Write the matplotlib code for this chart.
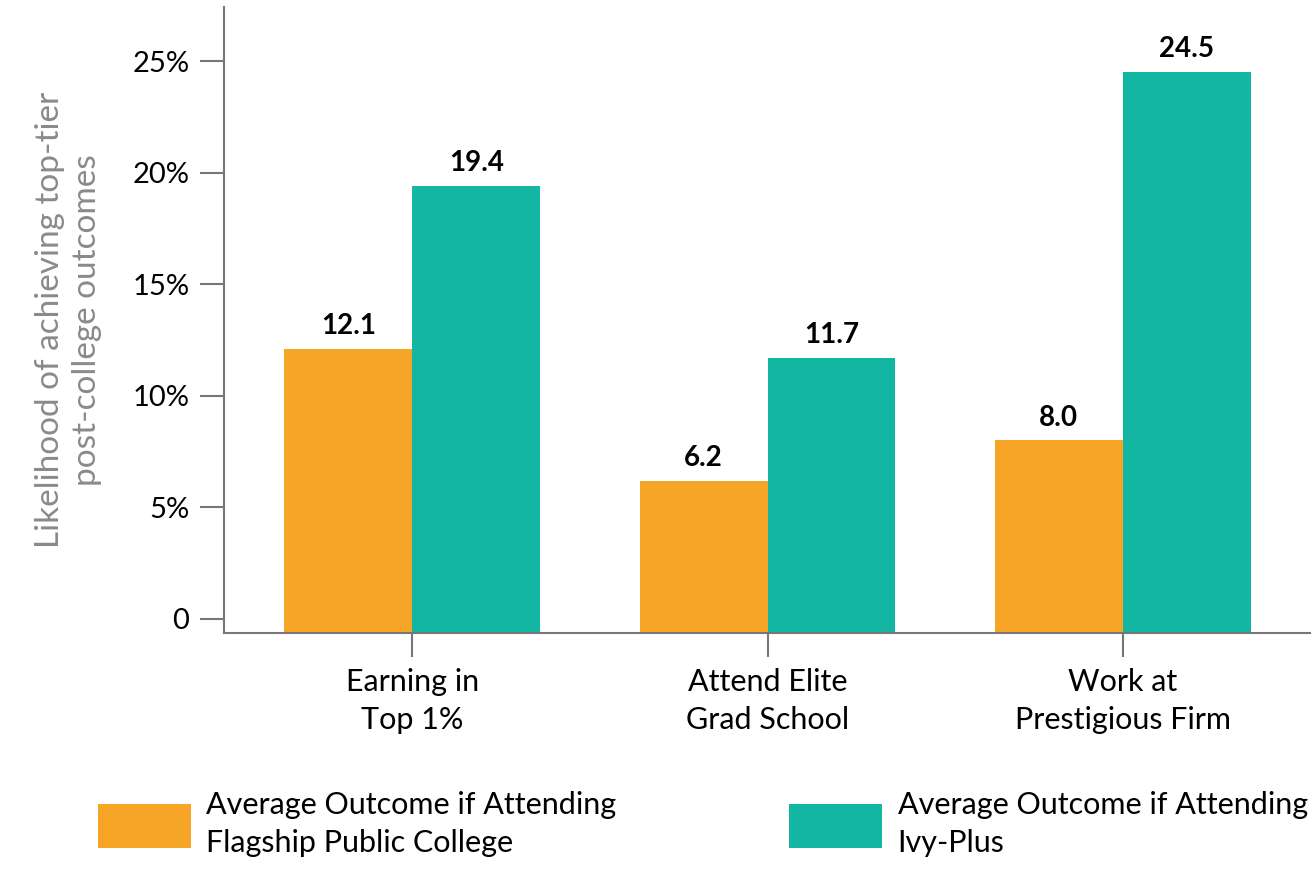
import matplotlib.pyplot as plt
import numpy as np

categories = ['Earning in\nTop 1%', 'Attend Elite\nGrad School', 'Work at\nPrestigious Firm']
flagship = [12.1, 6.2, 8.0]
ivy_plus = [19.4, 11.7, 24.5]
series_names = ['Average Outcome if Attending\nFlagship Public College',
                'Average Outcome if Attending\nIvy-Plus']
yticks = [0, 5, 10, 15, 20, 25]
ytick_labels = ['0', '5%', '10%', '15%', '20%', '25%']

ORANGE = '#F7A526'
TEAL = '#13B5A3'
GREY = '#777777'

plt.rcParams['font.family'] = ['Lato', 'DejaVu Sans']

fig = plt.figure(figsize=(13.11, 8.69), dpi=100)
ax = fig.add_axes([224 / 1311, 1 - 633 / 869, 1 - 224 / 1311, (633 - 7) / 869])

ymin, ymax = -0.63, 27.42
x = np.arange(len(categories))
w = 0.36
b1 = ax.bar(x - w / 2, np.array(flagship) - ymin, w, bottom=ymin, color=ORANGE, label=series_names[0])
b2 = ax.bar(x + w / 2, np.array(ivy_plus) - ymin, w, bottom=ymin, color=TEAL, label=series_names[1])

# value labels above each bar
for bars, vals in ((b1, flagship), (b2, ivy_plus)):
    for r, v in zip(bars, vals):
        ax.annotate(f'{v:.1f}', (r.get_x() + r.get_width() / 2, v), xytext=(0, 7),
                    textcoords='offset points', ha='center', va='bottom',
                    fontsize=20, fontweight='bold')

ax.set_ylim(ymin, ymax)
ax.set_xlim(-0.53, 2.53)
ax.set_yticks(yticks)
ax.set_yticklabels(ytick_labels, fontsize=21)
ax.set_xticks(x)
ax.set_xticklabels(categories, fontsize=22, linespacing=1.45)
ax.tick_params(axis='both', colors=GREY, labelcolor='black',
               length=17, width=1.5)
ax.tick_params(axis='x', pad=8)
ax.tick_params(axis='y', pad=8)

for s in ['top', 'right']:
    ax.spines[s].set_visible(False)
for s in ['left', 'bottom']:
    ax.spines[s].set_color(GREY)
    ax.spines[s].set_linewidth(1.5)

ax.set_ylabel('Likelihood of achieving top-tier\npost-college outcomes',
              fontsize=24, color='#8a8a8a', linespacing=1.3)
ax.yaxis.set_label_coords(-0.112, 0.5)

leg = fig.legend(handles=[b1, b2], loc='upper left', bbox_to_anchor=(98 / 1311, 1 - 791 / 869),
                 ncol=2, frameon=False, fontsize=22, borderpad=0, borderaxespad=0,
                 handlelength=3.05, handleheight=1.85, handletextpad=0.5,
                 columnspacing=5.65)
for t in leg.get_texts():
    t.set_linespacing(1.45)

fig.savefig('out.png', dpi=100)
